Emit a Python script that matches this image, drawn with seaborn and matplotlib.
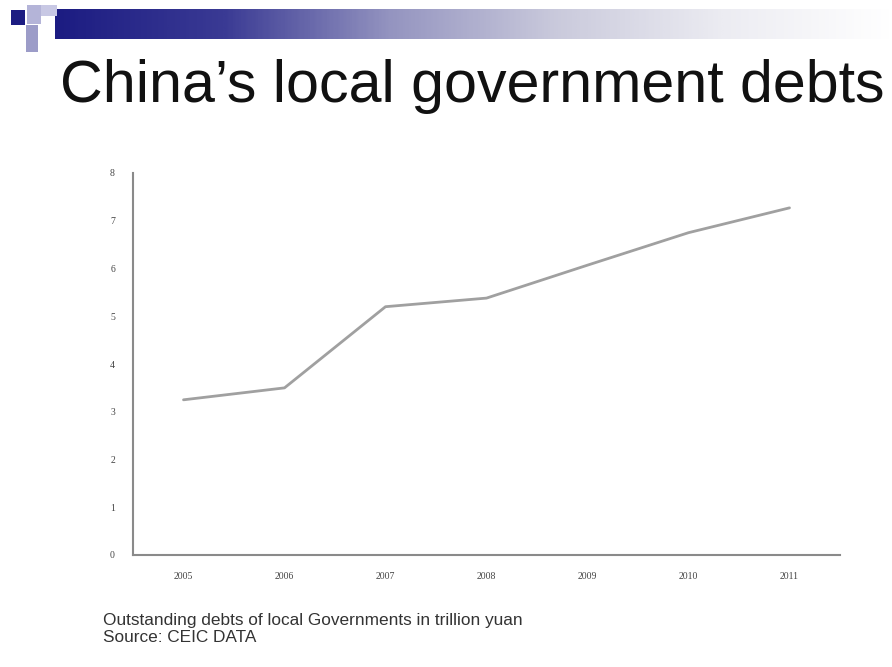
import numpy as np
import pandas as pd
import matplotlib
matplotlib.use("Agg")
import matplotlib.pyplot as plt
from matplotlib.patches import Rectangle
from matplotlib.colors import LinearSegmentedColormap
import seaborn as sns

years = ["2005", "2006", "2007", "2008", "2009", "2010", "2011"]
debt = [3.25, 3.5, 5.2, 5.38, 6.07, 6.75, 7.27]
yticks = [0, 1, 2, 3, 4, 5, 6, 7, 8]

title = "China\u2019s local government debts"
caption = "Outstanding debts of local Governments in trillion yuan"
source = "Source: CEIC DATA"

sns.set_theme(style="white")
plt.rcParams["font.family"] = ["Liberation Sans", "DejaVu Sans"]

W, H = 892, 667
fig = plt.figure(figsize=(W / 100, H / 100), dpi=100)
fig.patch.set_facecolor("white")

# header band: navy gradient fading to white
band = fig.add_axes([55 / W, 1 - 39 / H, (892 - 55) / W, 30 / H])
cmap = LinearSegmentedColormap.from_list(
    "band", ["#1c1c82", "#3a3a94", "#9494c0", "#cacadc", "#ececf2", "#ffffff"])
band.imshow(np.linspace(0, 1, 400)[None, :], aspect="auto", cmap=cmap,
            extent=[0, 1, 0, 1])
band.set_axis_off()

# small squares in the corner
for (x, y, w, h, c) in [
    (11, 10, 14, 15, "#1c1c82"),
    (27, 5, 14, 19, "#b4b4d8"),
    (41, 5, 16, 11, "#c8c8e4"),
    (26, 25, 12, 27, "#9c9cc8"),
]:
    fig.patches.append(Rectangle((x / W, 1 - (y + h) / H), w / W, h / H,
                                 transform=fig.transFigure, color=c, lw=0))

fig.text(60 / W, 1 - 102 / H, title, fontsize=42.6, color="#111111",
         ha="left", va="baseline")

ax = fig.add_axes([133 / W, 1 - 555 / H, (840 - 133) / W, (555 - 173) / H])
df = pd.DataFrame({"year": years, "debt": debt})
sns.lineplot(data=df, x="year", y="debt", ax=ax, color="#a0a0a0", lw=2)
ax.set_xlim(-0.5, len(years) - 0.5)
ax.set_ylim(0, 8)
ax.set_yticks(yticks)
ax.set_xlabel("")
ax.set_ylabel("")
for s in ["top", "right"]:
    ax.spines[s].set_visible(False)
for s in ["left", "bottom"]:
    ax.spines[s].set_color("#8a8a8a")
    ax.spines[s].set_linewidth(1.5)
ax.tick_params(axis="both", which="both", length=3, width=1, color="#8a8a8a",
               direction="out", labelsize=7, labelcolor="#444444", pad=10)
for lab in ax.get_xticklabels() + ax.get_yticklabels():
    lab.set_fontfamily("Liberation Serif")
ax.tick_params(axis="x", pad=9)

fig.text(103 / W, 1 - 620 / H, caption, fontsize=12.4, color="#333333",
         ha="left", va="center")
fig.text(103 / W, 1 - 638 / H, source, fontsize=12.4, color="#333333",
         ha="left", va="center")

fig.savefig("out.png", dpi=100, facecolor="white")
